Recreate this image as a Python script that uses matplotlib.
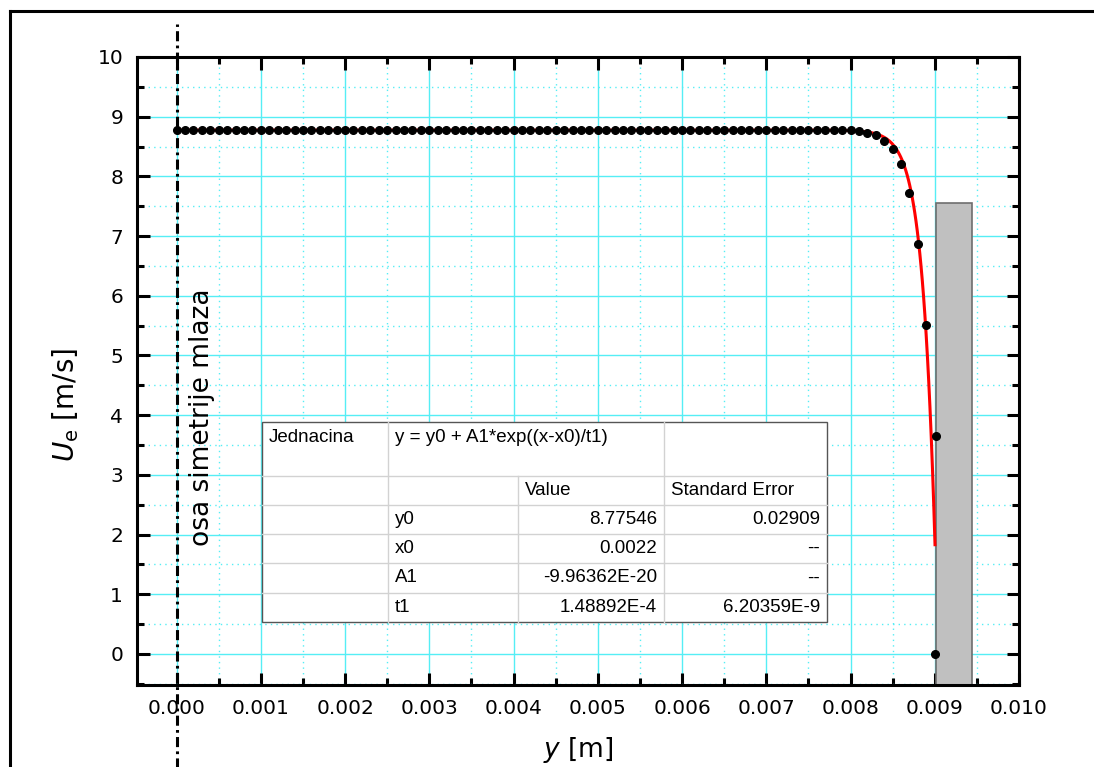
import numpy as np
import matplotlib
matplotlib.use("Agg")
from matplotlib import pyplot as plt
from matplotlib.ticker import MultipleLocator, FormatStrFormatter
from matplotlib.lines import Line2D
from matplotlib.patches import Rectangle

# measured points (y in m, Ue in m/s)
y_meas = list(np.round(np.arange(0, 0.00805, 0.0001), 4)) + [
    0.0081, 0.0082, 0.0083, 0.0084, 0.0085, 0.0086, 0.0087, 0.0088, 0.0089, 0.00901, 0.0090]
ue_meas = [8.78] * 81 + [8.76, 8.73, 8.69, 8.60, 8.46, 8.20, 7.72, 6.87, 5.51, 3.65, 0.0]

# fit parameters from the table
fit_names = ["y0", "x0", "A1", "t1"]
fit_values = [8.77546, 0.0022, -9.96362e-20, 1.48892e-4]
fit_value_text = ["8.77546", "0.0022", "-9.96362E-20", "1.48892E-4"]
fit_error_text = ["0.02909", "--", "--", "6.20359E-9"]
fit_range = (0.0, 0.009003)

# wall (gray block)
wall_left, wall_right, wall_top = 0.00901, 0.00944, 7.55

plt.rcParams['font.family'] = 'DejaVu Sans'
plt.rcParams['mathtext.fontset'] = 'dejavusans'

W, H = 1094, 767
fig = plt.figure(figsize=(W / 100, H / 100), dpi=100)
ax = fig.add_axes([137 / W, 1 - 685 / H, (1019 - 137) / W, (685 - 57) / H])

ax.set_xlim(-0.00047, 0.0100)
ax.set_ylim(-0.52, 10)
ax.set_axisbelow(True)

grid_c = '#55eef5'
ax.xaxis.set_major_locator(MultipleLocator(0.001))
ax.xaxis.set_minor_locator(MultipleLocator(0.0005))
ax.yaxis.set_major_locator(MultipleLocator(1))
ax.yaxis.set_minor_locator(MultipleLocator(0.5))
ax.xaxis.set_major_formatter(FormatStrFormatter('%.3f'))
ax.yaxis.set_major_formatter(FormatStrFormatter('%d'))
ax.grid(which='major', color=grid_c, lw=1.0, ls='-')
ax.grid(which='minor', color=grid_c, lw=1.0, ls=(0, (1, 3)))

for s in ax.spines.values():
    s.set_linewidth(2.2)
ax.tick_params(which='both', direction='in', top=True, right=True, width=2.2,
               labelsize=14.5, pad=10)
ax.tick_params(which='major', length=9)
ax.tick_params(which='minor', length=5)

# wall
ax.bar(wall_left, wall_top + 1, width=wall_right - wall_left, bottom=-1, align='edge',
       color='#c0c0c0', edgecolor='#6e6e6e', lw=1.2, zorder=2)

# fit curve
xf = np.linspace(fit_range[0], fit_range[1], 600)
y0, x0, A1, t1 = fit_values
ax.plot(xf, y0 + A1 * np.exp((xf - x0) / t1), color='red', lw=2.2, zorder=3)

# measured points
ax.plot(y_meas, ue_meas, 'o', color='black', ms=5.5, zorder=4)

# axis of symmetry
ax.axvline(0, ymin=-0.14, ymax=1.0525, color='black', lw=2.2,
           ls=(0, (3.3, 1.4, 0.9, 1.4)), clip_on=False, zorder=6)
ax.text(0.0003, 3.97, 'osa simetrije mlaza', rotation=90, ha='center', va='center',
        fontsize=19)

ax.set_ylabel(r'$\mathit{U}_\mathrm{e}$ [m/s]', fontsize=20)
ax.yaxis.set_label_coords(-0.064, 0.446)
ax.set_xlabel(r'$\mathit{y}$ [m]', fontsize=19)
ax.xaxis.set_label_coords(0.5, -0.079)

# results table (pixel layout converted to axes fractions)
def axx(px):
    return (px - 137) / 882


def axy(py):
    return (685 - py) / 628


rows = [422, 476, 505, 534, 563, 593, 622]
cols = [262, 388, 518, 664, 827]
ax.add_patch(Rectangle((axx(cols[0]), axy(rows[-1])), axx(cols[-1]) - axx(cols[0]),
                       axy(rows[0]) - axy(rows[-1]), transform=ax.transAxes,
                       facecolor='white', edgecolor='#555555', lw=1.0, zorder=7))
for r in rows[1:-1]:
    ax.add_line(Line2D([axx(cols[0]), axx(cols[-1])], [axy(r), axy(r)],
                       transform=ax.transAxes, color='#d2d2d2', lw=1.0, zorder=8))
for c in cols[1:-1]:
    top = rows[0] if c != cols[2] else rows[1]
    ax.add_line(Line2D([axx(c), axx(c)], [axy(top), axy(rows[-1])],
                       transform=ax.transAxes, color='#d2d2d2', lw=1.0, zorder=8))

tkw = dict(transform=ax.transAxes, fontsize=13.5, family='Liberation Sans', zorder=9,
           va='center')
ax.text(axx(269), axy(437), 'Jednacina', ha='left', **tkw)
ax.text(axx(395), axy(437), 'y = y0 + A1*exp((x-x0)/t1)', ha='left', **tkw)
ax.text(axx(525), axy(490), 'Value', ha='left', **tkw)
ax.text(axx(671), axy(490), 'Standard Error', ha='left', **tkw)
for i, name in enumerate(fit_names):
    yc = (rows[i + 2] + rows[i + 3]) / 2
    ax.text(axx(395), axy(yc), name, ha='left', **tkw)
    ax.text(axx(657), axy(yc), fit_value_text[i], ha='right', **tkw)
    ax.text(axx(820), axy(yc), fit_error_text[i], ha='right', **tkw)

# frame lines of the original page
fig.add_artist(Line2D([10 / W, 10 / W], [0, 1 - 11 / H], color='black', lw=2.2))
fig.add_artist(Line2D([10 / W, 1], [1 - 11 / H, 1 - 11 / H], color='black', lw=2.2))

fig.savefig('out.png', dpi=100)
